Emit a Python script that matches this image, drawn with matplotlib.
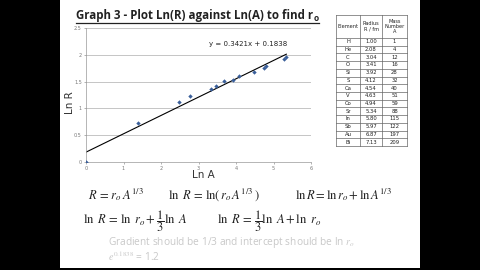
import numpy as np
import matplotlib
matplotlib.use("Agg")
import matplotlib.pyplot as plt
from matplotlib.lines import Line2D
from matplotlib.patches import Rectangle

elements = ["H", "He", "C", "O", "Si", "S", "Ca", "V", "Co", "Sr", "In", "Sb", "Au", "Bi"]
radius = [1.00, 2.08, 3.04, 3.41, 3.92, 4.12, 4.54, 4.63, 4.94, 5.34, 5.80, 5.97, 6.87, 7.13]
mass = [1, 4, 12, 16, 28, 32, 40, 51, 59, 88, 115, 122, 197, 209]
slope, intercept = 0.3421, 0.1838
xticks = [0, 1, 2, 3, 4, 5, 6]
yticks = [0, 0.5, 1, 1.5, 2, 2.5]

W, H = 480, 270
def fx(x): return x / W
def fy(y): return 1 - y / H

fig = plt.figure(figsize=(4.8, 2.7), dpi=100, facecolor="black")
plt.rcParams["mathtext.fontset"] = "stix"

# slide
fig.patches.append(Rectangle((fx(60), fy(268)), 360 / W, 268 / H, transform=fig.transFigure,
                             facecolor="white", edgecolor="none", zorder=-10))

# title
t = fig.text(fx(76), fy(19), "Graph 3 - Plot Ln(R) against Ln(A) to find r", fontsize=8.3,
             fontweight="bold", family="Open Sans", color="#222222", va="baseline")
fig.canvas.draw()
bb = t.get_window_extent()
t2 = fig.text(bb.x1 / W + 0.001, fy(21), "o", fontsize=6, fontweight="bold", family="Open Sans",
              color="#222222", va="baseline")
fig.canvas.draw()
bb2 = t2.get_window_extent()
fig.lines.append(Line2D([bb.x0 / W, bb2.x1 / W], [fy(22.5), fy(22.5)], transform=fig.transFigure,
                        color="#222222", lw=0.9))

# chart
ax = fig.add_axes([fx(86), fy(162), 225 / W, 134 / H], zorder=5)
ax.patch.set_alpha(0)
lnA = np.log(mass)
lnR = np.log(radius)
xs = np.array([0, lnA.max()])
ax.plot(xs, slope * xs + intercept, color="black", lw=0.8, zorder=2)
ax.scatter(lnA, lnR, marker="D", s=5, color="#3A5F9A", zorder=3, linewidths=0)
ax.set_xlim(0, 6)
ax.set_ylim(0, 2.5)
ax.set_xticks(xticks)
ax.set_yticks(yticks)
ax.set_yticklabels([f"{v:g}" for v in yticks])
ax.tick_params(labelsize=3.5, colors="#777777", length=1.5, width=0.4, pad=1.5)
ax.grid(axis="y", color="#BBBBBB", lw=0.6)
ax.set_axisbelow(True)
for s in ["top", "right"]:
    ax.spines[s].set_visible(False)
ax.spines["left"].set_color("#999999")
ax.spines["bottom"].set_color("#999999")
ax.spines["left"].set_linewidth(0.5)
ax.spines["bottom"].set_linewidth(0.5)
ax.text(0.72, 0.88, f"y = {slope}x + {intercept}", transform=ax.transAxes, fontsize=5,
        ha="center", va="center", color="#222222")
fig.text(fx(203), fy(175), "Ln A", fontsize=7.5, ha="center", va="center", color="#333333")
fig.text(fx(70), fy(103), "Ln R", fontsize=7.5, ha="center", va="center", rotation=90, color="#333333")

# table
tx = [336, 360, 382, 407]
ty0, ty1 = 15, 38
rh = (146 - 38) / len(elements)
tab_lines = dict(color="#666666", lw=0.5, transform=fig.transFigure)
ybot = ty1 + rh * len(elements)
for x in tx:
    fig.lines.append(Line2D([fx(x), fx(x)], [fy(ty0), fy(ybot)], **tab_lines))
fig.lines.append(Line2D([fx(tx[0]), fx(tx[-1])], [fy(ty0), fy(ty0)], **tab_lines))
for i in range(len(elements) + 1):
    y = ty1 + rh * i
    fig.lines.append(Line2D([fx(tx[0]), fx(tx[-1])], [fy(y), fy(y)], **tab_lines))
hdrs = ["Element", "Radius\nR / fm", "Mass\nNumber\nA"]
for j, h in enumerate(hdrs):
    fig.text(fx((tx[j] + tx[j + 1]) / 2), fy((ty0 + ty1) / 2), h, fontsize=3.6, ha="center",
             va="center", linespacing=1.1, color="#222222")
for i in range(len(elements)):
    yc = ty1 + rh * (i + 0.5)
    vals = [elements[i], f"{radius[i]:.2f}", str(mass[i])]
    for j, v in enumerate(vals):
        fig.text(fx((tx[j] + tx[j + 1]) / 2), fy(yc), v, fontsize=3.8, ha="center", va="center",
                 color="#222222")

# equations
eq = dict(fontsize=9, va="center", color="#222222")
fig.text(fx(88), fy(195), r"$R\,=\,r_o\, A^{1/3}$", **eq)
fig.text(fx(168), fy(195), r"$\ln\ R\,=\,\ln(\,r_o\, A^{1/3}\,)$", **eq)
fig.text(fx(295), fy(195), r"$\ln R = \ln r_o + \ln A^{1/3}$", **eq)
fig.text(fx(83), fy(221), r"$\ln\ R\,=\,\ln\ r_o+\dfrac{1}{3}\ln\ A$", **eq)
fig.text(fx(217), fy(221), r"$\ln\ R\,=\,\dfrac{1}{3}\ln\ A+\ln\ r_o$", **eq)
fig.text(fx(108), fy(243), r"Gradient should be 1/3 and intercept should be ln $r_o$", fontsize=7.3,
         va="center", color="#C8C8C8", family="Open Sans")
fig.text(fx(108), fy(257), r"$e^{0.1838}$ = 1.2", fontsize=7.3, va="center", color="#C8C8C8",
         family="Open Sans")

fig.savefig("out.png", dpi=100, facecolor="black")
